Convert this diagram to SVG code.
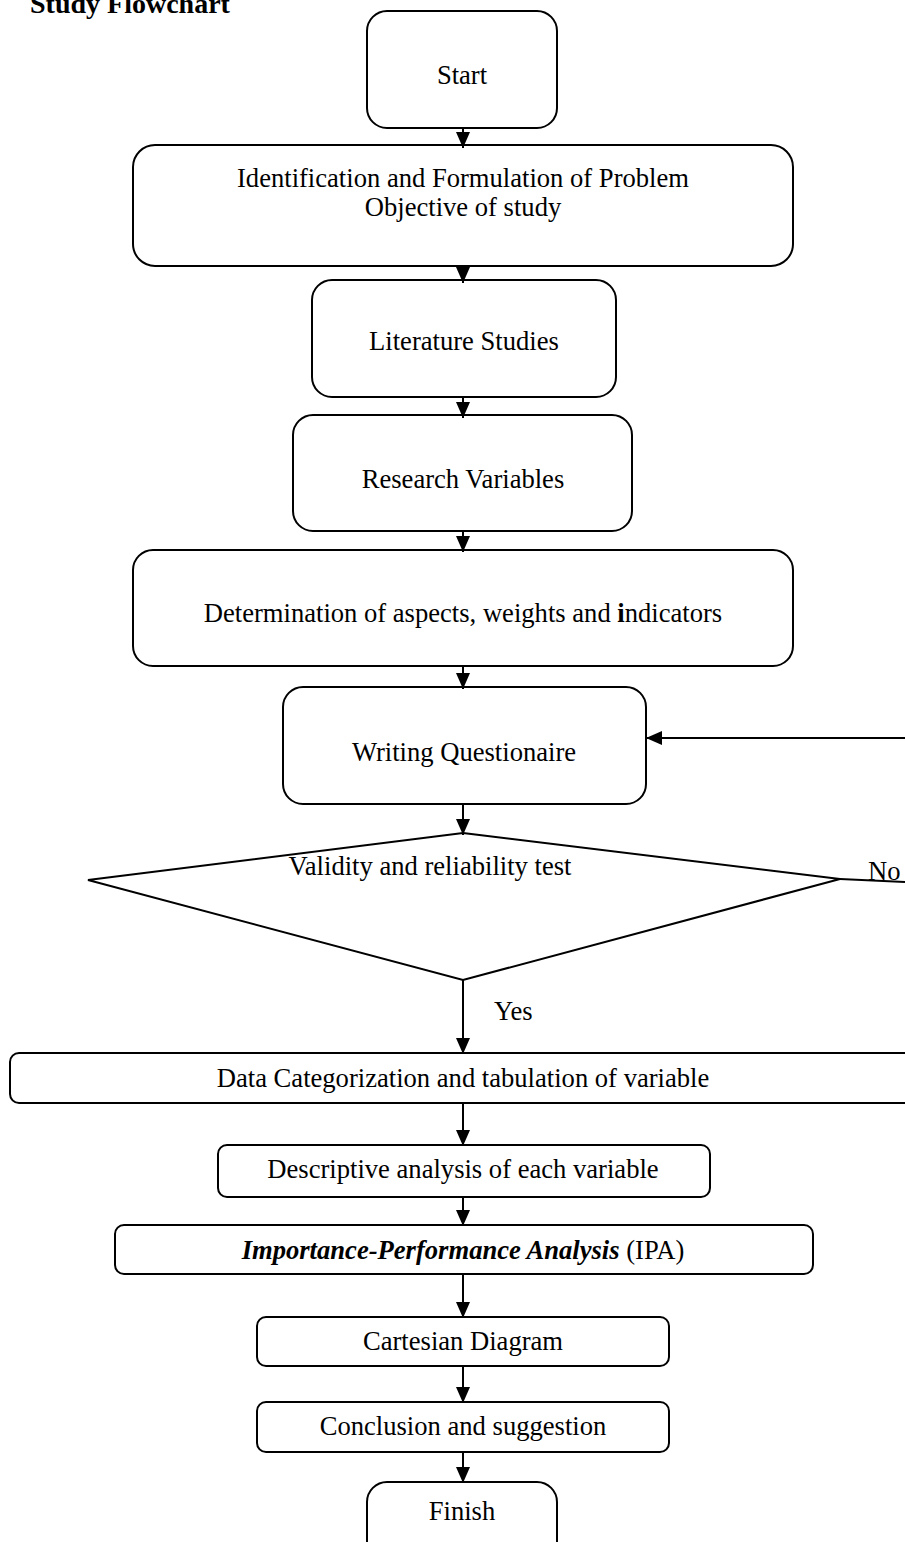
<svg xmlns="http://www.w3.org/2000/svg" width="905" height="1542" viewBox="0 0 905 1542">
<style>
.box{fill:#fff;stroke:#000;stroke-width:2}
.t{font-family:"Liberation Serif","Times New Roman",serif;font-size:26.6px;fill:#000;text-anchor:middle}
.l{font-family:"Liberation Serif","Times New Roman",serif;font-size:26.6px;fill:#000}
.c{stroke:#000;stroke-width:2;fill:none}
</style>
<defs>
<marker id="a" markerUnits="userSpaceOnUse" markerWidth="16" markerHeight="16" viewBox="0 0 16 16" refX="16" refY="8" orient="auto">
<path d="M0,1 L16,8 L0,15 Z" fill="#000"/>
</marker>
</defs>
<text x="30" y="13" style="font-family:'Liberation Serif',serif;font-size:28px;font-weight:bold">Study Flowchart</text>

<g id="start"><rect class="box" x="367" y="11" width="190" height="117" rx="20"/><text class="t" x="462" y="84">Start</text></g>
<g id="ident"><rect class="box" x="133" y="145" width="660" height="121" rx="22"/><text class="t" x="463" y="187">Identification and Formulation of Problem</text><text class="t" x="463" y="216">Objective of study</text></g>
<g id="lit"><rect class="box" x="312" y="280" width="304" height="117" rx="20"/><text class="t" x="464" y="350">Literature Studies</text></g>
<g id="research"><rect class="box" x="293" y="415" width="339" height="116" rx="20"/><text class="t" x="463" y="488">Research Variables</text></g>
<g id="determ"><rect class="box" x="133" y="550" width="660" height="116" rx="20"/><text class="t" x="463" y="622">Determination of aspects, weights and <tspan font-weight="bold">i</tspan>ndicators</text></g>
<g id="writing"><rect class="box" x="283" y="687" width="363" height="117" rx="20"/><text class="t" x="464" y="761">Writing Questionaire</text></g>
<g id="validity"><polygon class="box" points="463,833 840,879 463,980 88,880"/><text class="t" x="430" y="875">Validity and reliability test</text></g>
<g id="datacat"><rect class="box" x="10" y="1053" width="915" height="50" rx="9"/><text class="t" x="463" y="1087">Data Categorization and tabulation of variable</text></g>
<g id="desc"><rect class="box" x="218" y="1145" width="492" height="52" rx="9"/><text class="t" x="463" y="1178">Descriptive analysis of each variable</text></g>
<g id="ipa"><rect class="box" x="115" y="1225" width="698" height="49" rx="9"/><text class="t" x="463" y="1259"><tspan font-weight="bold" font-style="italic">Importance-Performance Analysis</tspan> (IPA)</text></g>
<g id="cart"><rect class="box" x="257" y="1317" width="412" height="49" rx="9"/><text class="t" x="463" y="1350">Cartesian Diagram</text></g>
<g id="concl"><rect class="box" x="257" y="1402" width="412" height="50" rx="9"/><text class="t" x="463" y="1435">Conclusion and suggestion</text></g>
<g id="finish"><rect class="box" x="367" y="1482" width="190" height="80" rx="20"/><text class="t" x="462" y="1520">Finish</text></g>

<g id="connectors">
<line class="c" x1="463" y1="128" x2="463" y2="148" marker-end="url(#a)"/>
<line class="c" x1="463" y1="266" x2="463" y2="283" marker-end="url(#a)"/>
<line class="c" x1="463" y1="397" x2="463" y2="418" marker-end="url(#a)"/>
<line class="c" x1="463" y1="531" x2="463" y2="552" marker-end="url(#a)"/>
<line class="c" x1="463" y1="666" x2="463" y2="689" marker-end="url(#a)"/>
<line class="c" x1="463" y1="804" x2="463" y2="835" marker-end="url(#a)"/>
<line class="c" x1="463" y1="980" x2="463" y2="1054" marker-end="url(#a)"/>
<text class="l" x="494" y="1020">Yes</text>
<line class="c" x1="463" y1="1103" x2="463" y2="1146" marker-end="url(#a)"/>
<line class="c" x1="463" y1="1197" x2="463" y2="1226" marker-end="url(#a)"/>
<line class="c" x1="463" y1="1274" x2="463" y2="1318" marker-end="url(#a)"/>
<line class="c" x1="463" y1="1366" x2="463" y2="1403" marker-end="url(#a)"/>
<line class="c" x1="463" y1="1452" x2="463" y2="1483" marker-end="url(#a)"/>
<polyline class="c" points="840,879 905,882"/>
<text class="l" x="868" y="880">No</text>
<line class="c" x1="905" y1="738" x2="646" y2="738" marker-end="url(#a)"/>
</g>
</svg>
